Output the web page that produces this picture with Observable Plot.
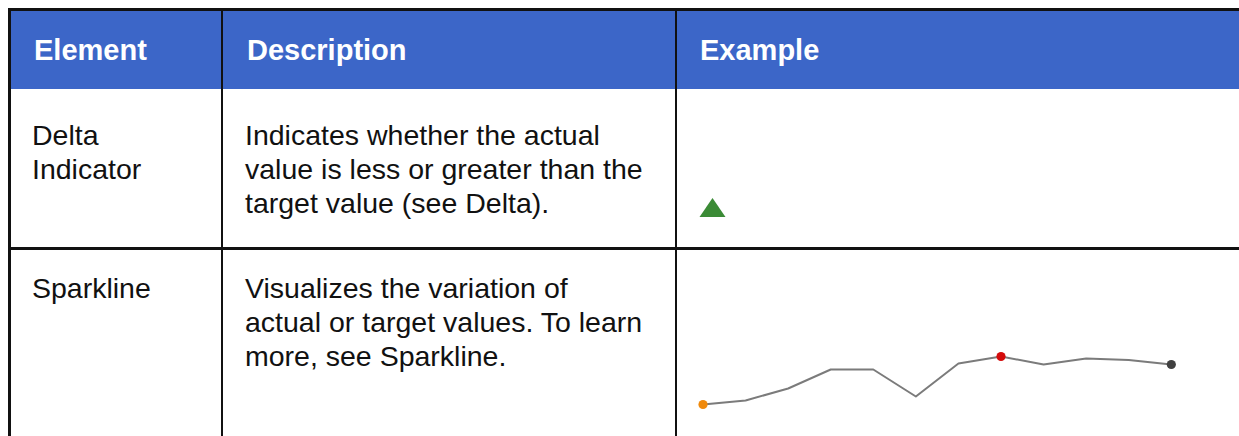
<!DOCTYPE html>
<html><head><meta charset="utf-8">
<script src="https://cdn.jsdelivr.net/npm/d3@7"></script>
<script src="https://cdn.jsdelivr.net/npm/@observablehq/plot@0.6"></script>
<style>
html,body{margin:0;padding:0;background:#fff;}
#wrap{position:relative;width:1239px;height:436px;overflow:hidden;background:#fff;font-family:"Liberation Sans",Arial,sans-serif;}
.abs{position:absolute;}
.hd{color:#fff;font-weight:bold;font-size:29px;line-height:34px;white-space:nowrap;}
.bd{color:#111;font-size:28.5px;line-height:34px;white-space:nowrap;}
.ln{background:#111;}
</style></head><body><div id="wrap"></div>
<script>
// ---- data ----
const headers = ["Element", "Description", "Example"];
const elementNames = [["Delta", "Indicator"], ["Sparkline"]];
const descriptions = [
  ["Indicates whether the actual", "value is less or greater than the", "target value (see Delta)."],
  ["Visualizes the variation of", "actual or target values. To learn", "more, see Sparkline."]
];
const deltaActual = [112];
const deltaTarget = [100];
const sparkPeriods = [1, 2, 3, 4, 5, 6, 7, 8, 9, 10, 11, 12];
const sparkValues = [16, 20, 32, 51, 51, 24, 57, 64, 56, 62, 60.5, 56];

// ---- layout ----
const wrap = document.getElementById("wrap");
function box(cls, css, html) {
  const d = document.createElement("div");
  d.className = "abs " + cls;
  d.style.cssText = css;
  if (html != null) d.innerHTML = html;
  wrap.appendChild(d);
  return d;
}
// header band
box("", "left:11px;top:11px;width:1228px;height:78px;background:#3c66c8;");
// borders
box("ln", "left:8px;top:8px;width:1231px;height:3px;");
box("ln", "left:8px;top:8px;width:2.7px;height:428px;");
box("ln", "left:220.6px;top:8px;width:2.6px;height:428px;");
box("ln", "left:674.6px;top:8px;width:2.3px;height:428px;");
box("ln", "left:8px;top:247.2px;width:1231px;height:2.6px;");

// header text
const colLeft = [34, 247, 700];
headers.forEach((h, i) => box("hd", `left:${colLeft[i]}px;top:33px;`, h));

// body text
const rowTop = [118, 271];
elementNames.forEach((lines, r) => box("bd", `left:32px;top:${rowTop[r]}px;`, lines.join("<br>")));
descriptions.forEach((lines, r) => box("bd", `left:245px;top:${rowTop[r]}px;`, lines.join("<br>")));

// ---- delta indicator (Plot) ----
const deltaRows = deltaActual.map((a, i) => ({actual: a, target: deltaTarget[i]}));
const upTriangle = {draw(ctx) { ctx.moveTo(0, -9.5); ctx.lineTo(13, 9.5); ctx.lineTo(-13, 9.5); ctx.closePath(); }};
const downTriangle = {draw(ctx) { ctx.moveTo(0, 9.5); ctx.lineTo(13, -9.5); ctx.lineTo(-13, -9.5); ctx.closePath(); }};
const deltaPlot = Plot.plot({
  width: 80, height: 50, margin: 0,
  x: {axis: null}, y: {axis: null},
  marks: [
    Plot.dot(deltaRows, {
      frameAnchor: "middle",
      symbol: deltaRows[0].actual >= deltaRows[0].target ? upTriangle : downTriangle,
      fill: d => d.actual >= d.target ? "#3b8b36" : "#c81e1e",
      stroke: "none"
    })
  ]
});
const dHolder = box("", "left:672px;top:181.5px;width:80px;height:50px;");
dHolder.appendChild(deltaPlot);

// ---- sparkline (Plot) ----
const spark = sparkPeriods.map((p, i) => ({period: p, value: sparkValues[i]}));
const maxV = d3.max(sparkValues);
const lastI = spark.length - 1;
const maxI = sparkValues.indexOf(maxV);
const highlight = spark.filter((d, i) => i === 0 || i === lastI || i === maxI);
const sparkPlot = Plot.plot({
  width: 520, height: 100, margin: 0,
  x: {domain: [1, 12], range: [22.5, 490.8], axis: null},
  y: {domain: [0, 90], range: [90, 0], axis: null},
  marks: [
    Plot.line(spark, {x: "period", y: "value", stroke: "#7b7b7b", strokeWidth: 2, curve: "linear"}),
    Plot.dot(highlight, {
      x: "period", y: "value", r: 4.6, stroke: "none",
      fill: d => d.period === sparkPeriods[0] ? "#f08a0c" : d.value === maxV ? "#d40a0a" : "#404040"
    })
  ]
});
const sHolder = box("", "left:680px;top:330px;width:520px;height:100px;");
sHolder.appendChild(sparkPlot);
</script>
</body></html>
